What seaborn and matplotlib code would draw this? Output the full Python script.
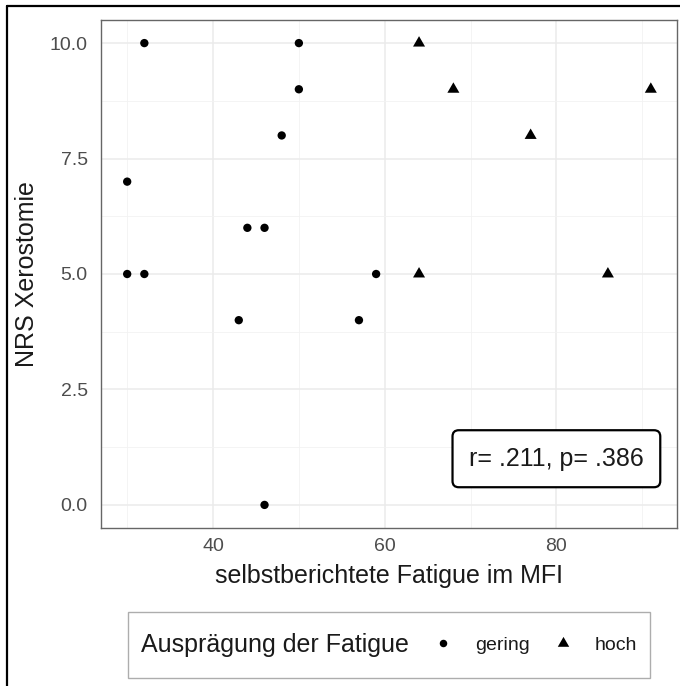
import numpy as np
import pandas as pd
import seaborn as sns
import matplotlib
matplotlib.use("Agg")
import matplotlib.pyplot as plt
from matplotlib.lines import Line2D
from matplotlib.offsetbox import HPacker, DrawingArea
from matplotlib.ticker import FixedLocator

# Fatigue (MFI) vs. dry-mouth rating (NRS), split by fatigue level
mfi_gering = [32, 30, 30, 32, 43, 44, 46, 48, 50, 50, 46, 57, 59]
nrs_gering = [10, 7, 5, 5, 4, 6, 6, 8, 10, 9, 0, 4, 5]
mfi_hoch = [64, 68, 77, 91, 64, 86]
nrs_hoch = [10, 9, 8, 9, 5, 5]
gruppen = ["gering", "hoch"]

x_ticks = [40, 60, 80]
y_ticks = [0.0, 2.5, 5.0, 7.5, 10.0]
y_ticklabels = ["0.0", "2.5", "5.0", "7.5", "10.0"]
stat_label = "r= .211, p= .386"

df = pd.DataFrame({
    "mfi": mfi_gering + mfi_hoch,
    "nrs": nrs_gering + nrs_hoch,
    "gruppe": ["gering"] * len(mfi_gering) + ["hoch"] * len(mfi_hoch),
})

sns.set_theme(style="white")
plt.rcParams["font.family"] = ["Liberation Sans", "DejaVu Sans"]

W, H = 680, 686
fig = plt.figure(figsize=(W / 100, H / 100), dpi=100)
ax = fig.add_axes([101 / W, (H - 528) / H, 576 / W, 508 / H])

tri = (3, 0, 0)
sns.scatterplot(data=df, x="mfi", y="nrs", style="gruppe", size="gruppe",
                markers={"gering": "o", "hoch": tri},
                sizes={"gering": 36, "hoch": 100},
                color="black", edgecolor="none", linewidth=0,
                legend=False, ax=ax, zorder=3)

# ranges with 5% padding around the data extent
xmin, xmax = min(df.mfi), max(df.mfi)
ymin, ymax = min(df.nrs), max(df.nrs)
ax.set_xlim(xmin - 0.05 * (xmax - xmin), xmax + 0.05 * (xmax - xmin))
ax.set_ylim(ymin - 0.05 * (ymax - ymin), ymax + 0.05 * (ymax - ymin))

ax.set_xticks(x_ticks)
ax.set_yticks(y_ticks)
ax.set_yticklabels(y_ticklabels)
ax.xaxis.set_minor_locator(FixedLocator([30, 50, 70, 90]))
ax.yaxis.set_minor_locator(FixedLocator([1.25, 3.75, 6.25, 8.75]))
ax.grid(True, which="major", color="#EBEBEB", lw=1.1, zorder=0)
ax.grid(True, which="minor", color="#F2F2F2", lw=0.6, zorder=0)
ax.set_axisbelow(True)
ax.tick_params(which="major", length=4, width=1, color="#333333",
               labelcolor="#4D4D4D", labelsize=14)
ax.tick_params(axis="y", which="major", pad=5.5)
ax.tick_params(axis="x", which="major", pad=3.5)
ax.tick_params(which="minor", length=0)
for sp in ax.spines.values():
    sp.set_color("#666666")
    sp.set_linewidth(1.0)

ax.set_xlabel("selbstberichtete Fatigue im MFI", fontsize=18, color="#1A1A1A", labelpad=6)
ax.set_ylabel("NRS Xerostomie", fontsize=18, color="#1A1A1A", labelpad=8)

ax.text(80, 1, stat_label, ha="center", va="center", fontsize=18, color="#1A1A1A",
        bbox=dict(boxstyle="round,pad=0.66,rounding_size=0.25", fc="white",
                  ec="black", lw=1.6), zorder=5)

# legend with the title to the left of the keys
handles = [
    Line2D([], [], ls="none", marker="o", ms=5.4, color="black", mec="none"),
    Line2D([], [], ls="none", marker=tri, ms=9.5, color="black", mec="none"),
]
leg = fig.legend(handles, gruppen, title="Ausprägung der Fatigue", ncol=2,
                 loc="center", bbox_to_anchor=((128 + 650) / 2 / W, 1 - 645 / H),
                 fontsize=14, title_fontsize=18, frameon=True, fancybox=False,
                 edgecolor="#999999", handlelength=1.0, handletextpad=1.15,
                 columnspacing=1.2, borderpad=0.66)
leg.get_frame().set_linewidth(1.0)
leg.get_title().set_color("#1A1A1A")
for t in leg.get_texts():
    t.set_color("#1A1A1A")
fs = leg._fontsize
strut = DrawingArea(0, 29.6)  # keeps the key box at its full height
title_part = HPacker(pad=0, sep=0, align="center",
                     children=[strut, leg._legend_title_box])
leg._legend_box = HPacker(pad=leg.borderpad * fs, sep=1.25 * fs, align="center",
                          children=[title_part, leg._legend_handle_box])
leg._legend_box.set_figure(fig)
leg._legend_box.set_offset(leg._findoffset)

# outer frame (top and left edges)
fig.add_artist(Line2D([7 / W, 1], [1 - 6 / H, 1 - 6 / H], transform=fig.transFigure,
                      color="black", lw=1.6))
fig.add_artist(Line2D([7 / W, 7 / W], [0, 1 - 6 / H], transform=fig.transFigure,
                      color="black", lw=1.6))

fig.savefig("out.png", dpi=100, facecolor="white")
